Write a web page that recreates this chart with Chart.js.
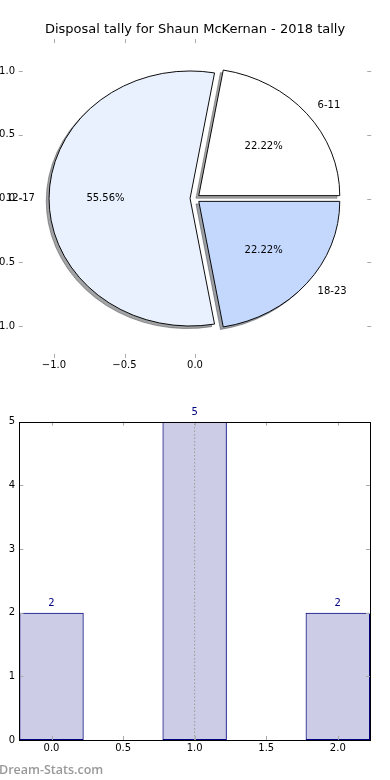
<!DOCTYPE html>
<html>
<head>
<meta charset="utf-8">
<script src="https://cdn.jsdelivr.net/npm/chart.js@4.4.1/dist/chart.umd.min.js"></script>
<style>
  html, body { margin: 0; padding: 0; background: #fff; }
  #wrap { position: relative; width: 390px; height: 780px; overflow: hidden; }
  #pieCanvas { position: absolute; left: 0; top: 0; width: 390px; height: 380px; }
  #barCanvas { position: absolute; left: 0; top: 380px; width: 390px; height: 400px; }
  #mark { position: absolute; left: -1px; top: 761px; font: 600 12.5px "Open Sans", sans-serif; color: #999; white-space: nowrap; }
</style>
</head>
<body>
<div id="wrap">
  <canvas id="pieCanvas" width="390" height="380"></canvas>
  <canvas id="barCanvas" width="390" height="400"></canvas>
  <div id="mark">Dream-Stats.com</div>
</div>
<script>
// pie data
const pieLabels = ["6-11", "12-17", "18-23"];
const pieCounts = [2, 5, 2];
const pieXTicks = [-1.0, -0.5, 0.0];
const pieYTicks = [-1.0, -0.5, 0.0, 0.5, 1.0];

// bar data
const barPositions = [0, 1, 2];
const barCounts = [2, 5, 2];
const barMean = 1.0;
const barXTicks = [0.0, 0.5, 1.0, 1.5, 2.0];
const barYTicks = [0, 1, 2, 3, 4, 5];

// styles
const pieColors = ["#ffffff", "#e9f0fe", "#c4d8fe"];
const explode = 0.035;
const navy = "#000080";

Chart.defaults.font.family = "'DejaVu Sans', sans-serif";
Chart.defaults.font.size = 10;
Chart.defaults.color = "#000";

function fmt(v) {
  return (v < 0 ? "\u2212" : "") + Math.abs(v).toFixed(1);
}

function fixedTicks(values) {
  return function (scale) {
    scale.ticks = values.map((v) => ({ value: v }));
  };
}

// matplotlib-like inward ticks (+ optional frame)
const mplAxes = {
  id: "mplAxes",
  afterDraw(chart, args, opts) {
    const { ctx, chartArea: a, scales } = chart;
    const L = 4;
    ctx.save();
    ctx.strokeStyle = "#aaa";
    ctx.lineWidth = 1;
    ctx.beginPath();
    scales.x.ticks.forEach((t) => {
      const px = Math.round(scales.x.getPixelForValue(t.value)) + 0.5;
      ctx.moveTo(px, a.bottom);
      ctx.lineTo(px, a.bottom - L);
      ctx.moveTo(px, a.top);
      ctx.lineTo(px, a.top + L);
    });
    scales.y.ticks.forEach((t) => {
      const py = Math.round(scales.y.getPixelForValue(t.value)) + 0.5;
      ctx.moveTo(a.left, py);
      ctx.lineTo(a.left + L, py);
      ctx.moveTo(a.right, py);
      ctx.lineTo(a.right - L, py);
    });
    ctx.stroke();
    if (opts.frame) {
      ctx.strokeStyle = "#000";
      ctx.strokeRect(
        Math.round(a.left) + 0.5,
        Math.round(a.top) + 0.5,
        Math.round(a.right) - Math.round(a.left),
        Math.round(a.bottom) - Math.round(a.top)
      );
    }
    ctx.restore();
  },
};

// exploded, shadowed pie stretched to the data axes
function pieFrame(chart, arc) {
  const xs = chart.scales.x;
  const ys = chart.scales.y;
  const cx = xs.getPixelForValue(0);
  const cy = ys.getPixelForValue(0);
  const R = arc.outerRadius;
  return {
    cx: cx,
    cy: cy,
    R: R,
    kx: (xs.getPixelForValue(1) - cx) / R,
    ky: (cy - ys.getPixelForValue(1)) / R,
  };
}

const piePlugin = {
  id: "mplPie",
  beforeDatasetDraw(chart, args) {
    const meta = args.meta;
    if (meta.type !== "pie") return;
    const ctx = chart.ctx;
    const arcs = meta.data;
    const f = pieFrame(chart, arcs[0]);

    const place = (arc, dx, dy) => {
      const mid = (arc.startAngle + arc.endAngle) / 2;
      ctx.translate(f.cx, f.cy);
      ctx.scale(f.kx, f.ky);
      ctx.translate(
        Math.cos(mid) * explode * f.R + dx - arc.x,
        Math.sin(mid) * explode * f.R + dy - arc.y
      );
    };

    // shadows first
    arcs.forEach((arc, i) => {
      const rgb = Chart.helpers.color(chart.data.datasets[0].backgroundColor[i]).rgb;
      const sc = "rgba(" + Math.round(rgb.r * 0.3) + "," + Math.round(rgb.g * 0.3) + "," + Math.round(rgb.b * 0.3) + ",0.5)";
      const ghost = Object.create(arc);
      ghost.options = Object.assign({}, arc.options, { backgroundColor: sc, borderColor: sc });
      ctx.save();
      place(arc, -0.02 * f.R, 0.02 * f.R);
      arc.draw.call(ghost, ctx);
      ctx.restore();
    });

    arcs.forEach((arc) => {
      ctx.save();
      place(arc, 0, 0);
      arc.draw(ctx);
      ctx.restore();
    });
    return false;
  },
  afterDatasetsDraw(chart) {
    const meta = chart.getDatasetMeta(0);
    const ctx = chart.ctx;
    const arcs = meta.data;
    const f = pieFrame(chart, arcs[0]);
    const vals = chart.data.datasets[0].data;
    const total = vals.reduce((s, v) => s + v, 0);
    ctx.save();
    ctx.font = "10px 'DejaVu Sans', sans-serif";
    ctx.fillStyle = "#000";
    ctx.textBaseline = "middle";
    arcs.forEach((arc, i) => {
      const mid = (arc.startAngle + arc.endAngle) / 2;
      const c = Math.cos(mid);
      const s = Math.sin(mid);
      const lx = f.cx + f.kx * f.R * c * (explode + 1.1);
      const ly = f.cy + f.ky * f.R * s * (explode + 1.1);
      ctx.textAlign = c > 0 ? "left" : "right";
      ctx.fillText(chart.data.labels[i], lx, ly);
      const px = f.cx + f.kx * f.R * c * (explode + 0.6);
      const py = f.cy + f.ky * f.R * s * (explode + 0.6);
      ctx.textAlign = "center";
      ctx.fillText(((vals[i] / total) * 100).toFixed(2) + "%", px, py);
    });
    ctx.restore();
  },
};

// counts above bars
const barValues = {
  id: "barValues",
  afterDatasetsDraw(chart) {
    const ctx = chart.ctx;
    chart.data.datasets.forEach((ds, di) => {
      const meta = chart.getDatasetMeta(di);
      if (meta.type !== "bar") return;
      ctx.save();
      ctx.font = "10px 'DejaVu Sans', sans-serif";
      ctx.fillStyle = navy;
      ctx.textAlign = "center";
      ctx.textBaseline = "middle";
      meta.data.forEach((el, i) => {
        ctx.fillText(String(ds.data[i].y), el.x, el.y - 9);
      });
      ctx.restore();
    });
  },
};

const noGrid = { display: false, drawTicks: false };
const noBorder = { display: false };

// pie (ordered clockwise from 3 o'clock like matplotlib's counter-clockwise)
new Chart(document.getElementById("pieCanvas"), {
  type: "pie",
  data: {
    labels: pieLabels.slice().reverse(),
    datasets: [
      {
        data: pieCounts.slice().reverse(),
        backgroundColor: pieColors.slice().reverse(),
        borderColor: "#000",
        borderWidth: 0.9,
        borderJoinStyle: "miter",
        radius: 127,
        rotation: 90,
        offset: 0,
        hoverOffset: 0,
      },
    ],
  },
  options: {
    responsive: false,
    devicePixelRatio: 1,
    animation: false,
    events: [],
    layout: { padding: 0 },
    plugins: {
      legend: { display: false },
      tooltip: { enabled: false },
      title: {
        display: true,
        text: "Disposal tally for Shaun McKernan - 2018 tally",
        color: "#000",
        font: { size: 13, weight: "normal" },
        padding: { top: 21.5, bottom: 2 },
      },
      mplAxes: { frame: false },
    },
    scales: {
      x: {
        type: "linear",
        position: "bottom",
        min: -1.25,
        max: 1.25,
        bounds: "data",
        grid: noGrid,
        border: noBorder,
        afterBuildTicks: fixedTicks(pieXTicks),
        afterFit: (s) => { s.height = 22.1; },
        ticks: { callback: fmt, padding: 1.1, autoSkip: false, maxRotation: 0 },
      },
      y: {
        type: "linear",
        position: "left",
        min: -1.25,
        max: 1.25,
        bounds: "data",
        grid: noGrid,
        border: noBorder,
        afterBuildTicks: fixedTicks(pieYTicks),
        afterFit: (s) => { s.width = 18.75; },
        ticks: { callback: fmt, padding: 3.75, autoSkip: false },
      },
      yRight: {
        type: "linear",
        position: "right",
        min: -1.25,
        max: 1.25,
        grid: noGrid,
        border: noBorder,
        afterFit: (s) => { s.width = 18.75; },
        ticks: { display: false },
      },
    },
  },
  plugins: [piePlugin, mplAxes],
});

// histogram-style bars
new Chart(document.getElementById("barCanvas"), {
  type: "bar",
  data: {
    datasets: [
      {
        type: "line",
        data: [
          { x: barMean, y: barYTicks[0] },
          { x: barMean, y: barYTicks[barYTicks.length - 1] },
        ],
        borderColor: "#999",
        borderWidth: 1,
        borderDash: [1.5, 2],
        pointRadius: 0,
        order: 0,
      },
      {
        type: "bar",
        data: barPositions.map((p, i) => ({ x: p, y: barCounts[i] })),
        backgroundColor: "rgba(0, 0, 128, 0.2)",
        borderColor: navy,
        borderWidth: 1,
        borderSkipped: false,
        categoryPercentage: 1,
        barPercentage: 0.9, // of the 0.5 tick spacing -> 0.45 wide
        order: 1,
      },
    ],
  },
  options: {
    responsive: false,
    devicePixelRatio: 1,
    animation: false,
    events: [],
    layout: { padding: { left: 0, right: 20, top: 41.7, bottom: 0 } },
    plugins: {
      legend: { display: false },
      tooltip: { enabled: false },
      mplAxes: { frame: true },
    },
    scales: {
      x: {
        type: "linear",
        position: "bottom",
        min: -0.225,
        max: 2.225,
        offset: false,
        bounds: "data",
        grid: { display: false, drawTicks: false, offset: false },
        border: noBorder,
        afterBuildTicks: fixedTicks(barXTicks),
        afterFit: (s) => { s.height = 40; },
        ticks: { callback: fmt, padding: 2.3, autoSkip: false, maxRotation: 0 },
      },
      y: {
        type: "linear",
        position: "left",
        min: 0,
        max: 5,
        bounds: "data",
        grid: noGrid,
        border: noBorder,
        afterBuildTicks: fixedTicks(barYTicks),
        afterFit: (s) => { s.width = 19.3; },
        ticks: { callback: (v) => String(v), padding: 4.3, autoSkip: false },
      },
    },
  },
  plugins: [barValues, mplAxes],
});
</script>
</body>
</html>
